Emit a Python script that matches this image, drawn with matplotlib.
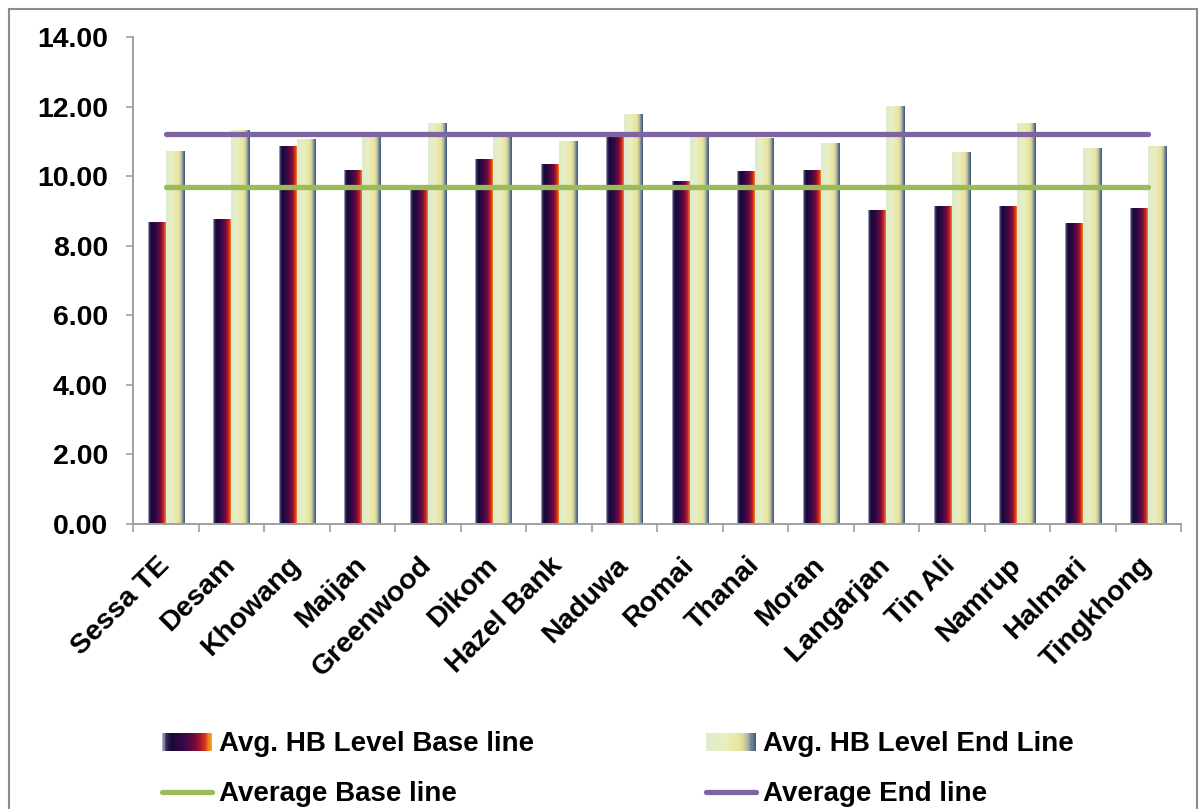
import numpy as np
import matplotlib
matplotlib.use("Agg")
import matplotlib.pyplot as plt
from matplotlib.colors import LinearSegmentedColormap
from matplotlib.patches import Rectangle
from matplotlib.lines import Line2D
from matplotlib.legend_handler import HandlerBase

# ---- data ----
gardens = ["Sessa TE", "Desam", "Khowang", "Maijan", "Greenwood", "Dikom",
           "Hazel Bank", "Naduwa", "Romai", "Thanai", "Moran", "Langarjan",
           "Tin Ali", "Namrup", "Halmari", "Tingkhong"]
hb_base = [8.67, 8.78, 10.87, 10.18, 9.64, 10.48, 10.34, 11.16,
           9.86, 10.14, 10.18, 9.04, 9.15, 9.15, 8.64, 9.08]
hb_end = [10.73, 11.32, 11.06, 11.18, 11.54, 11.20, 11.00, 11.80,
          11.18, 11.10, 10.96, 12.03, 10.70, 11.54, 10.80, 10.88]
avg_base = 9.70
avg_end = 11.22
y_ticks = [0, 2, 4, 6, 8, 10, 12, 14]

plt.rcParams["font.family"] = ["Liberation Sans", "DejaVu Sans"]
plt.rcParams["font.weight"] = "bold"

base_cmap = LinearSegmentedColormap.from_list("base", [
    (0.00, "#d4d4e4"), (0.07, "#3a3060"), (0.18, "#160838"),
    (0.45, "#3a0848"), (0.68, "#7a0a3a"), (0.84, "#d02a22"),
    (0.93, "#f07a18"), (1.00, "#f8b030")])
end_cmap = LinearSegmentedColormap.from_list("end", [
    (0.00, "#dcecd0"), (0.35, "#eaeec0"), (0.68, "#e8e49c"),
    (0.80, "#c0c49c"), (0.88, "#7a8ea0"), (1.00, "#3c5474")])

fig = plt.figure(figsize=(12.02, 8.09), dpi=100)
ax = fig.add_axes([133 / 1202, 1 - 524 / 809, (1181 - 133) / 1202, (524 - 37) / 809])

x = np.arange(len(gardens))
w = 0.275
grad = np.linspace(0, 1, 256).reshape(1, -1)

def gradient_bars(xpos, values, cmap):
    bars = ax.bar(xpos, values, width=w, facecolor="none", edgecolor="none", zorder=2)
    for b in bars:
        x0, h, bw = b.get_x(), b.get_height(), b.get_width()
        im = ax.imshow(grad, cmap=cmap, aspect="auto", extent=[x0, x0 + bw, 0, h],
                       zorder=2, interpolation="bilinear")
        im.set_clip_path(b)
    return bars

gradient_bars(x - w / 2, hb_base, base_cmap)
gradient_bars(x + w / 2, hb_end, end_cmap)

ax.plot(x, [avg_base] * len(x), color="#9bbb59", lw=3.8, solid_capstyle="round", zorder=3)
ax.plot(x, [avg_end] * len(x), color="#8064a2", lw=3.8, solid_capstyle="round", zorder=3)

ax.set_xlim(-0.5, len(x) - 0.5)
ax.set_ylim(0, 14)
ax.set_yticks(y_ticks)
ax.set_yticklabels([f"{v:.2f}" for v in y_ticks], fontsize=20.5, fontweight="bold")
ax.set_xticks(x)
ax.set_xticklabels(gardens, fontsize=20.5, fontweight="bold", rotation=45,
                   ha="right", va="center", rotation_mode="anchor")
ax.set_xticks(np.arange(len(x) + 1) - 0.5, minor=True)
ax.tick_params(axis="x", which="major", length=0, pad=27)
ax.tick_params(axis="x", which="minor", length=6, width=1.2, color="#a0a0a0", direction="out")
ax.tick_params(axis="y", length=5, width=1.2, color="#a0a0a0", pad=13)
for s in ["top", "right"]:
    ax.spines[s].set_visible(False)
for s in ["left", "bottom"]:
    ax.spines[s].set_color("#a0a0a0")
    ax.spines[s].set_linewidth(1.4)

# outer chart border
fig.patches.append(Rectangle((9 / 1202, -0.05), (1197 - 9) / 1202, 1.05 - 9 / 809,
                             transform=fig.transFigure, fill=False,
                             edgecolor="#8c8c8c", lw=1.5))


class GradientHandler(HandlerBase):
    def __init__(self, cmap):
        super().__init__()
        self.cmap = cmap

    def create_artists(self, legend, orig_handle, xdescent, ydescent, width, height,
                       fontsize, trans):
        n = 40
        arts = []
        for i in range(n):
            r = Rectangle((-xdescent + width * i / n, -ydescent + height * 0.0),
                          width / n * 1.05, height * 0.95,
                          facecolor=self.cmap((i + 0.5) / n), edgecolor="none",
                          transform=trans)
            arts.append(r)
        return arts


h_base = Rectangle((0, 0), 1, 1)
h_end = Rectangle((0, 0), 1, 1)
l_base = Line2D([0], [0], color="#9bbb59", lw=3.8, solid_capstyle="round")
l_end = Line2D([0], [0], color="#8064a2", lw=3.8, solid_capstyle="round")

fig.legend([h_base, l_base, h_end, l_end],
           ["Avg. HB Level Base line", "Average Base line",
            "Avg. HB Level End Line", "Average End line"],
           handler_map={h_base: GradientHandler(base_cmap), h_end: GradientHandler(end_cmap)},
           ncol=2, loc="upper left", bbox_to_anchor=(162 / 1202, 1 - 731 / 809),
           frameon=False, prop={"size": 20, "weight": "bold"},
           handlelength=1.8, handletextpad=0.25, columnspacing=6.2,
           labelspacing=0.88, borderpad=0, borderaxespad=0)

fig.savefig("out.png", dpi=100, facecolor="white")
